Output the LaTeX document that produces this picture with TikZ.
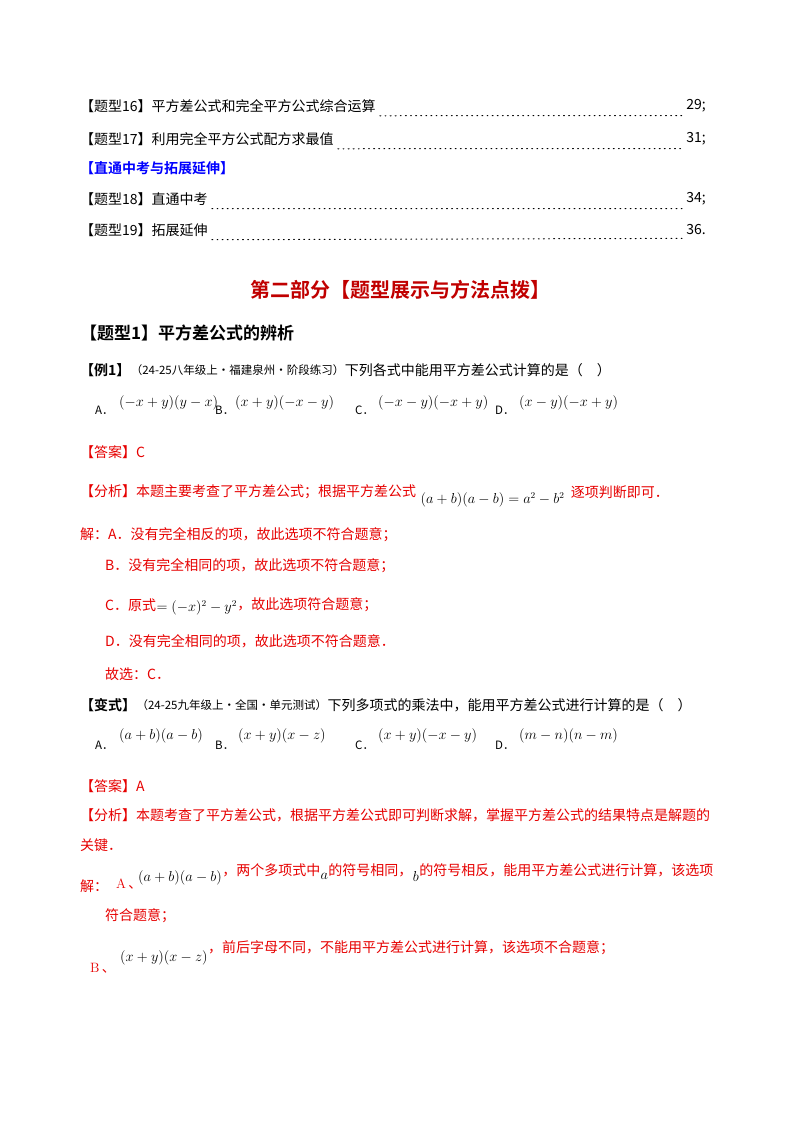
\documentclass[tikz,border=0pt]{standalone}
\usepackage{fontspec}
\newfontfamily\cjk{Noto Sans CJK SC}
\newfontfamily\cjkb{Noto Sans CJK SC Bold}
\definecolor{rd}{RGB}{230,0,0}
\definecolor{dr}{RGB}{192,0,0}
\definecolor{bl}{RGB}{0,0,255}
\begin{document}
\begin{tikzpicture}[x=1pt,y=-1pt,
  t/.style={anchor=west,inner sep=0pt,font=\fontsize{14}{16}\cjk},
  r/.style={t,text=rd},
  sm/.style={anchor=west,inner sep=0pt,font=\fontsize{11.5}{13}\cjk},
  m/.style={anchor=west,inner sep=0pt,font=\fontsize{13.5}{16}\selectfont},
  lead/.style={dotted,line width=1pt,dash pattern=on 0.9pt off 4.2pt,line cap=round}]
\useasboundingbox (0,0) rectangle (800,1132);
\node[t] (l16) at (80,106) {【题型16】平方差公式和完全平方公式综合运算};
\node[t,anchor=east] (p16) at (706,106) {29;};
\draw[lead] ([xshift=4pt,yshift=-3pt]l16.south east) -- ([xshift=-3pt,yshift=-3pt]p16.south west);
\node[t] (l17) at (80,139) {【题型17】利用完全平方公式配方求最值};
\node[t,anchor=east] (p17) at (706,139) {31;};
\draw[lead] ([xshift=4pt,yshift=-3pt]l17.south east) -- ([xshift=-3pt,yshift=-3pt]p17.south west);
\node[t,text=bl,font=\fontsize{14}{16}\cjkb] (h) at (80,168) {【直通中考与拓展延伸】};
\node[t] (l18) at (80,199) {【题型18】直通中考};
\node[t,anchor=east] (p18) at (706,199) {34;};
\draw[lead] ([xshift=4pt,yshift=-3pt]l18.south east) -- ([xshift=-3pt,yshift=-3pt]p18.south west);
\node[t] (l19) at (80,230) {【题型19】拓展延伸};
\node[t,anchor=east] (p19) at (706,230) {36.};
\draw[lead] ([xshift=4pt,yshift=-3pt]l19.south east) -- ([xshift=-3pt,yshift=-3pt]p19.south west);

\node[inner sep=0pt,text=dr,font=\fontsize{20}{22}\cjkb] (part) at (400,290) {第二部分【题型展示与方法点拨】};
\node[t,font=\fontsize{17}{19}\cjkb] (tx1) at (80,333) {【题型1】平方差公式的辨析};

\node[t,font=\fontsize{14}{16}\cjkb] (ex1) at (80,370) {【例1】};
\node[sm] (src1) at (ex1.east) {（24-25八年级上·福建泉州·阶段练习）};
\node[t] (q1) at (src1.east) {下列各式中能用平方差公式计算的是（\quad）};
\node[sm] (a1) at (95,410) {A．};
\node[m] (a1m) at (119,403) {$(-x+y)(y-x)$};
\node[sm] (b1) at (215,410) {B．};
\node[m] (b1m) at (235,403) {$(x+y)(-x-y)$};
\node[sm] (c1) at (355,410) {C．};
\node[m] (c1m) at (378,403) {$(-x-y)(-x+y)$};
\node[sm] (d1) at (495,410) {D．};
\node[m] (d1m) at (519,403) {$(x-y)(-x+y)$};

\node[r] (ans1) at (80,452) {【答案】C};
\node[r] (an1) at (80,492) {【分析】本题主要考查了平方差公式；根据平方差公式};
\node[m,text=black] (f1) at ([xshift=4pt,yshift=-8pt]an1.east) {$(a+b)(a-b)=a^2-b^2$};
\node[r] (an1b) at ([xshift=6pt]an1.east-|f1.east) {逐项判断即可．};
\node[r] (s1) at (80,535) {解：A．没有完全相反的项，故此选项不符合题意；};
\node[r] (s2) at (105,566) {B．没有完全相同的项，故此选项不符合题意；};
\node[r] (s3) at (105,605) {C．原式};
\node[m,text=black] (s3m) at ([yshift=-3pt]s3.east) {$=(-x)^2-y^2$};
\node[r] (s3b) at (s3.east-|s3m.east) {，故此选项符合题意；};
\node[r] (s4) at (105,641) {D．没有完全相同的项，故此选项不符合题意．};
\node[r] (s5) at (105,674) {故选：C．};

\node[t,font=\fontsize{14}{16}\cjkb] (bs) at (80,705) {【变式】};
\node[sm] (src2) at (bs.east) {（24-25九年级上·全国·单元测试）};
\node[t] (q2) at (src2.east) {下列多项式的乘法中，能用平方差公式进行计算的是（\quad）};
\node[sm] (a2) at (95,745) {A．};
\node[m] (a2m) at (119,736) {$(a+b)(a-b)$};
\node[sm] (b2) at (215,745) {B．};
\node[m] (b2m) at (238,736) {$(x+y)(x-z)$};
\node[sm] (c2) at (355,745) {C．};
\node[m] (c2m) at (378,736) {$(x+y)(-x-y)$};
\node[sm] (d2) at (495,745) {D．};
\node[m] (d2m) at (519,736) {$(m-n)(n-m)$};

\node[r] (ans2) at (80,786) {【答案】A};
\node[r] (an2) at (80,815) {【分析】本题考查了平方差公式，根据平方差公式即可判断求解，掌握平方差公式的结果特点是解题的};
\node[r] (an2b) at (80,845) {关键．};
\node[r] (t1) at (80,886) {解：};
\node[m,text=rd] (t1a) at (116,884) {A\,{\cjk 、}};
\node[m] (t1m) at (138,878) {$(a+b)(a-b)$};
\node[r] (t1b) at ([yshift=8pt]t1m.east) {，两个多项式中};
\node[m] (t1c) at ([yshift=-6pt]t1b.east) {$a$};
\node[r] (t1d) at ([yshift=6pt]t1c.east) {的符号相同，};
\node[m] (t1e) at ([yshift=-6pt]t1d.east) {$b$};
\node[r] (t1f) at ([yshift=6pt]t1e.east) {的符号相反，能用平方差公式进行计算，该选项};
\node[r] (t2) at (105,916) {符合题意；};
\node[m,text=rd] (u1) at (90,968) {B\,{\cjk 、}};
\node[m] (u1m) at (120,958) {$(x+y)(x-z)$};
\node[r] (u1b) at ([yshift=10pt]u1m.east) {，前后字母不同，不能用平方差公式进行计算，该选项不合题意；};
\end{tikzpicture}
\end{document}
